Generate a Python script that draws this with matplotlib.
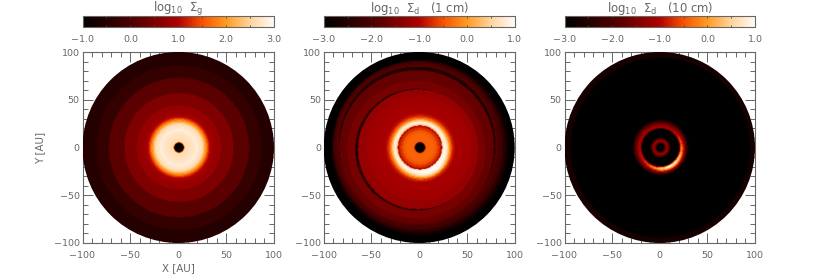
import numpy as np
import matplotlib
matplotlib.use("Agg")
import matplotlib.pyplot as plt
from matplotlib.colors import LinearSegmentedColormap
from matplotlib.patches import Circle
from matplotlib.ticker import MultipleLocator

GREY = "#666666"
plt.rcParams.update({"font.family": "DejaVu Sans", "mathtext.fontset": "dejavusans",
                     "text.color": GREY, "axes.edgecolor": GREY, "axes.linewidth": 0.8,
                     "axes.labelcolor": GREY, "xtick.color": GREY, "ytick.color": GREY})

# colour table
cmap_pos = [0.0, 0.25, 0.5, 0.625, 0.75, 0.875, 1.0]
cmap_col = ["#000000", "#4a0000", "#b00000", "#f65200", "#ff9a20", "#ffd39c", "#fffaf5"]
cmap = LinearSegmentedColormap.from_list("hot_idl", list(zip(cmap_pos, cmap_col)), N=256)

# strength of the crescent per 10 degree sector, starting at azimuth 0
crescent = [0.38, 0.30, 0.22, 0.15, 0.10, 0.06, 0.04, 0.02, 0.0, 0.0, 0.0, 0.0, 0.0, 0.0, 0.0, 0.02, 0.04, 0.06,
            0.08, 0.10, 0.12, 0.16, 0.22, 0.30, 0.40, 0.52, 0.66, 0.80, 0.92, 1.0, 1.0, 0.95, 0.82, 0.70, 0.58, 0.47]

# gas: bin lower edges (AU) and values
r_gas = [0, 5.0, 5.6, 6.5, 10, 14, 17, 20, 23, 25, 26, 27, 28, 29, 30, 31, 32, 33, 35, 37,
         44, 57, 73, 86, 100]
v_gas = [-1, 1.6, 2.55, 2.64, 2.68, 2.74, 2.84, 2.72, 2.6, 2.42, 2.2, 2.0, 1.8, 1.6, 1.35, 1.15, 1.0, 0.9, 0.8, 0.75,
         0.52, 0.16, -0.28, -0.5, -0.55]

# dust 1 cm: bin lower edges, values, crescent weight, eccentric offsets
r_d1 = [0, 5.0, 5.6, 7, 11, 15, 18, 20.5, 22, 23, 24, 25, 26, 27, 28, 29, 30, 31, 32, 33, 34, 36,
        45, 54, 62.6, 63.6, 72, 80.5, 81.5, 85, 88, 90, 92, 100]
v_d1 = [-3, -1.5, -0.45, -0.38, -0.38, -0.48, -0.68, -0.85, -1.02, 0.2, 0.7, 0.85, 0.8, 0.55, 0.28, -0.05, -0.3, -0.5, -0.68, -0.82, -0.95, -1.08,
        -1.14, -1.24, -2.5, -1.55, -1.75, -2.6, -1.95, -2.1, -2.4, -2.75, -3, -3]
b_d1 = [0, 0, 0, 0, 0, 0, 0, 0, 0, 0.6, 0.3, 0.2, 0.2, 0.4, 0.6, 0.8, 0.8, 0.7, 0.5, 0.3, 0.15, 0.0,
        0, 0, 0, 0, 0, 0, 0, 0, 0, 0, 0, 0]
dx_d1 = [0, 0, 0, 0, 0, 0, 0, 0, 0, 0, 0, 0, 0, 0, 0, 0, 0, 0, 0, 0, 0, 0,
         -1, -2, -3.8, -3.8, -3.4, -3, -3, -2, -1, 0, 0, 0]
dy_d1 = [0, 0, 0, 0, 0, 0, 0, 0, 0, 0, 0, 0, 0, 0, 0, 0, 0, 0, 0, 0, 0, 0,
         -1, -2, -2.2, -2.2, 0.5, 3, 3, 2, 1, 0, 0, 0]

# dust 10 cm
r_d10 = [0, 4.2, 5, 6.3, 7.5, 8.5, 9.7, 11, 19, 20, 21, 22, 23, 24, 25, 26, 27, 28, 29,
         94, 100]
v_d10 = [-3, -2.5, -1.6, -1.22, -1.5, -2.0, -2.7, -3, -2.6, -1.5, -1.15, -1.22, -1.4, -1.6, -1.8, -2.0, -2.3, -2.7, -3,
         -2.68, -2.72]
b_d10 = [0, 0, 0, 0, 0, 0, 0, 0, 0, 1.0, 2.0, 2.0, 1.6, 1.2, 0.8, 0.5, 0.25, 0.1, 0,
         0, 0]

panels_px = [(82.5, 274), (323.7, 514.7), (564.5, 755)]
top_px, bot_px = 52, 243
cb_top, cb_bot = 15.7, 27
W, H = 830, 277

vranges = [(-1, 3), (-3, 1), (-3, 1)]
cb_ticks = [[-1, 0, 1, 2, 3], [-3, -2, -1, 0, 1], [-3, -2, -1, 0, 1]]
titles = [r"$\mathrm{log}_{10}\ \ \Sigma_{\mathrm{g}}$",
          r"$\mathrm{log}_{10}\ \ \Sigma_{\mathrm{d}}$   (1 cm)",
          r"$\mathrm{log}_{10}\ \ \Sigma_{\mathrm{d}}$   (10 cm)"]
tick_vals = [-100, -50, 0, 50, 100]

data = [(r_gas, v_gas, None, None, None),
        (r_d1, v_d1, b_d1, dx_d1, dy_d1),
        (r_d10, v_d10, b_d10, None, None)]

NGRID = 240
cells = (np.arange(NGRID) + 0.5) / NGRID * 200 - 100
GX, GY = np.meshgrid(cells, cells)
sector = (np.degrees(np.arctan2(GY, GX)) % 360 / 10).astype(int) % 36
CRES = np.array(crescent)[sector]


def paint(r, v, b, dx, dy):
    """Paint the bins as discs from the outermost inwards."""
    n = len(r)
    b = [0] * n if b is None else b
    dx = [0] * n if dx is None else dx
    dy = [0] * n if dy is None else dy
    Z = np.full(GX.shape, float(v[-1]))
    for i in range(n - 1, -1, -1):
        outer = r[i + 1] if i + 1 < n else 150
        mask = (GX - dx[i]) ** 2 + (GY - dy[i]) ** 2 < outer ** 2
        Z = np.where(mask, v[i] + b[i] * CRES, Z)
    return Z


fig = plt.figure(figsize=(W / 100, H / 100), dpi=100)

for i, ((x0, x1), (vmin, vmax), d) in enumerate(zip(panels_px, vranges, data)):
    ax = fig.add_axes([x0 / W, 1 - bot_px / H, (x1 - x0) / W, (bot_px - top_px) / H])
    Z = paint(*d)
    m = ax.imshow(Z, cmap=cmap, vmin=vmin, vmax=vmax, origin="lower",
                  extent=(-100, 100, -100, 100), interpolation="bilinear", zorder=3)
    m.set_clip_path(Circle((0, 0), 100, transform=ax.transData))
    ax.set_xlim(-100, 100)
    ax.set_ylim(-100, 100)
    ax.set_aspect("auto")
    ax.set_xticks(tick_vals)
    ax.set_yticks(tick_vals)
    ax.set_xticklabels([str(t).replace("-", "\u2212") for t in tick_vals])
    ax.set_yticklabels([str(t).replace("-", "\u2212") for t in tick_vals])
    ax.xaxis.set_minor_locator(MultipleLocator(10))
    ax.yaxis.set_minor_locator(MultipleLocator(10))
    ax.tick_params(which="major", direction="in", length=7, width=0.7, top=True, right=True, labelsize=6.8)
    ax.tick_params(which="minor", direction="in", length=3.5, width=0.7, top=True, right=True)
    ax.tick_params(axis="x", which="major", pad=6)
    ax.tick_params(axis="y", which="major", pad=2)
    ax.set_axisbelow(True)
    if i == 0:
        ax.set_xlabel("X [AU]", fontsize=7.4)
        ax.xaxis.set_label_coords(0.5, -0.105)
        ax.set_ylabel("Y [AU]", fontsize=7.4)
        ax.yaxis.set_label_coords(-0.196, 0.5)

    cax = fig.add_axes([x0 / W, 1 - cb_bot / H, (x1 - x0) / W, (cb_bot - cb_top) / H])
    cb = fig.colorbar(m, cax=cax, orientation="horizontal")
    cb.set_ticks(cb_ticks[i], labels=[f"{t:.1f}".replace("-", "\u2212") for t in cb_ticks[i]])
    cax.xaxis.set_minor_locator(MultipleLocator(0.5))
    cax.tick_params(which="both", direction="in", bottom=True, top=True, length=1.5, width=0.6, color="#444444",
                    labelsize=6.8, pad=5.5)
    cb.outline.set_edgecolor(GREY)
    cb.outline.set_linewidth(0.8)
    cax.set_title(titles[i], fontsize=8.4, y=1.3, pad=0, va="baseline", color=GREY)

fig.savefig("out.png", dpi=100, facecolor="white")
